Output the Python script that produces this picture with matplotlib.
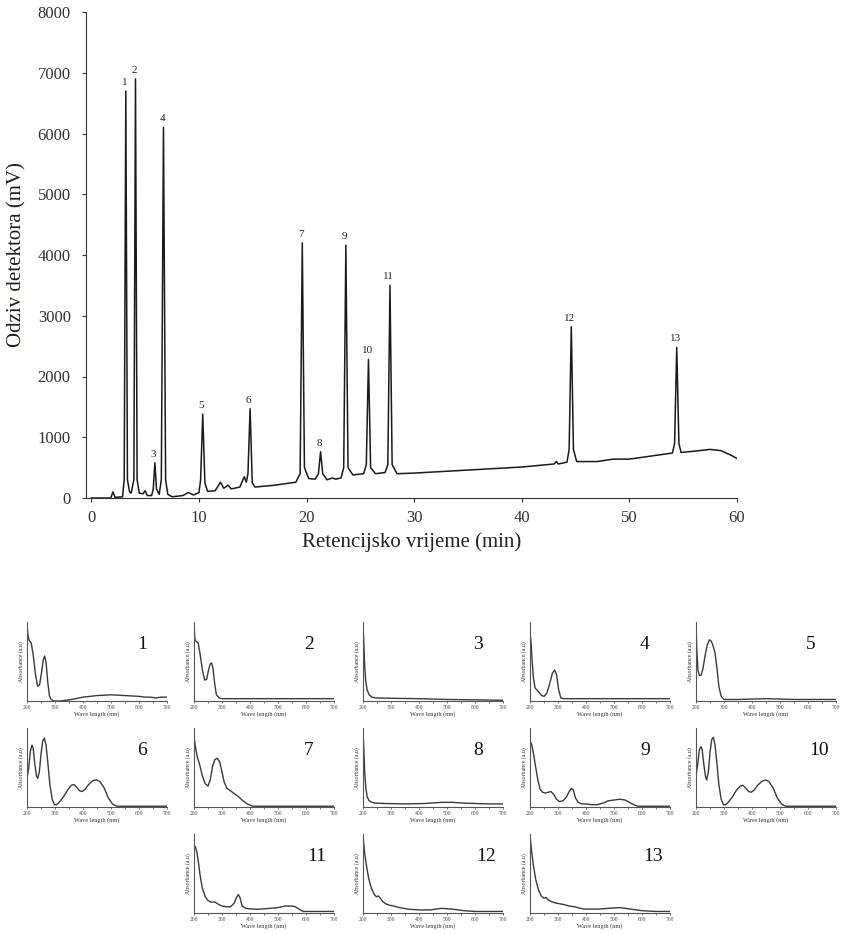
import matplotlib
matplotlib.use("Agg")
import matplotlib.pyplot as plt

plt.rcParams['font.family'] = ['Liberation Serif', 'DejaVu Serif']

# chromatogram trace, vertices (min, mV)
t_min = [0, 1.8, 2.0, 2.2, 2.9, 3.05, 3.2, 3.35, 3.55, 3.7, 3.95, 4.1, 4.25, 4.45,
         4.8, 5.0, 5.2, 5.6, 5.75, 5.9, 6.05, 6.3, 6.5, 6.7, 6.9, 7.1, 7.5, 8.5,
         9.0, 9.5, 10.0, 10.15, 10.35, 10.55, 10.8, 11.5, 12.0, 12.3, 12.7, 13.0,
         13.8, 14.2, 14.4, 14.55, 14.75, 14.95, 15.2, 17.0, 19.0, 19.4, 19.6, 19.8,
         20.2, 20.8, 21.1, 21.3, 21.5, 21.9, 22.4, 22.7, 23.2, 23.45, 23.65, 23.85,
         24.3, 25.3, 25.55, 25.75, 25.95, 26.4, 27.3, 27.55, 27.75, 27.95, 28.4,
         30, 33, 36, 40, 43, 43.2, 43.4, 44.2, 44.4, 44.6, 44.8, 45.1, 47, 48.5,
         50, 52, 54.0, 54.2, 54.4, 54.6, 54.8, 56, 57.5, 58.5, 59.5, 60]
signal = [0, 0, 100, 10, 20, 300, 6700, 300, 100, 80, 300, 6900, 300, 80,
          70, 120, 40, 40, 150, 580, 150, 60, 300, 6100, 300, 60, 20, 40,
          90, 50, 90, 300, 1380, 250, 110, 120, 260, 160, 210, 150,
          180, 350, 260, 400, 1470, 250, 180, 210, 260, 400, 4200, 500,
          320, 310, 400, 760, 400, 300, 330, 310, 330, 500, 4160, 500,
          380, 400, 550, 2280, 500, 400, 420, 550, 3500, 550, 400,
          410, 440, 470, 510, 560, 600, 560, 590, 800, 2820, 800, 600, 600, 640,
          640, 690, 740, 900, 2480, 900, 750, 770, 800, 780, 700, 650]

peak_no = ['1', '2', '3', '4', '5', '6', '7', '8', '9', '10', '11', '12', '13']
peak_t = [3.2, 4.1, 5.9, 6.7, 10.35, 14.75, 19.6, 21.3, 23.65, 25.75, 27.75, 44.6, 54.4]
peak_h = [6700, 6900, 580, 6100, 1380, 1470, 4200, 760, 4160, 2280, 3500, 2820, 2480]

# UV-Vis spectra of the peaks (nm, a.u.)
wl1 = [200, 203, 207, 215, 222, 230, 238, 245, 252, 258, 263, 268, 274, 280, 286, 295, 320, 360, 400, 450, 500, 550, 600, 620, 640, 660, 680, 700]
ab1 = [1.00, 0.86, 0.79, 0.75, 0.60, 0.35, 0.19, 0.21, 0.37, 0.53, 0.58, 0.50, 0.25, 0.07, 0.02, 0.0, 0.0, 0.02, 0.05, 0.07, 0.08, 0.07, 0.06, 0.05, 0.05, 0.04, 0.05, 0.05]
wl2 = [200, 203, 207, 215, 222, 230, 238, 245, 252, 258, 263, 268, 274, 280, 290, 300, 400, 500, 600, 700]
ab2 = [1.00, 0.80, 0.77, 0.75, 0.60, 0.40, 0.27, 0.28, 0.40, 0.48, 0.49, 0.42, 0.22, 0.08, 0.04, 0.03, 0.03, 0.03, 0.03, 0.03]
wl3 = [200, 203, 206, 210, 215, 222, 232, 245, 300, 400, 500, 600, 700]
ab3 = [1.00, 0.75, 0.45, 0.25, 0.14, 0.08, 0.05, 0.04, 0.035, 0.03, 0.02, 0.015, 0.01]
wl4 = [200, 203, 207, 212, 218, 230, 242, 250, 260, 270, 280, 288, 295, 302, 310, 320, 400, 500, 600, 700]
ab4 = [0.87, 0.80, 0.55, 0.30, 0.17, 0.12, 0.07, 0.06, 0.10, 0.22, 0.36, 0.40, 0.34, 0.15, 0.04, 0.03, 0.03, 0.03, 0.03, 0.03]
wl5 = [200, 203, 207, 212, 218, 225, 232, 240, 248, 255, 262, 268, 275, 282, 290, 300, 350, 450, 550, 700]
ab5 = [1.00, 0.65, 0.40, 0.33, 0.33, 0.42, 0.58, 0.72, 0.79, 0.77, 0.70, 0.62, 0.42, 0.18, 0.06, 0.02, 0.02, 0.03, 0.02, 0.02]
wl6 = [200, 206, 212, 218, 222, 228, 234, 238, 244, 250, 256, 262, 268, 275, 282, 290, 298, 306, 315, 330, 345, 358, 368, 378, 388, 397, 408, 420, 435, 448, 460, 475, 490, 505, 520, 560, 700]
ab6 = [0.37, 0.50, 0.72, 0.80, 0.76, 0.55, 0.40, 0.37, 0.45, 0.68, 0.85, 0.89, 0.80, 0.55, 0.28, 0.10, 0.03, 0.03, 0.06, 0.13, 0.22, 0.28, 0.29, 0.25, 0.21, 0.20, 0.23, 0.29, 0.34, 0.35, 0.33, 0.25, 0.12, 0.04, 0.01, 0.01, 0.01]
wl7 = [200, 205, 212, 220, 230, 240, 250, 258, 266, 274, 283, 292, 300, 308, 318, 330, 345, 360, 375, 390, 410, 450, 550, 700]
ab7 = [0.90, 0.78, 0.64, 0.55, 0.40, 0.30, 0.27, 0.35, 0.52, 0.61, 0.63, 0.58, 0.45, 0.32, 0.24, 0.21, 0.17, 0.13, 0.08, 0.04, 0.01, 0.01, 0.01, 0.01]
wl8 = [200, 203, 206, 210, 215, 222, 232, 245, 280, 350, 420, 480, 520, 560, 600, 650, 700]
ab8 = [1.00, 0.75, 0.45, 0.25, 0.13, 0.08, 0.06, 0.05, 0.045, 0.04, 0.045, 0.06, 0.06, 0.05, 0.045, 0.04, 0.04]
wl9 = [200, 205, 212, 220, 228, 236, 245, 255, 265, 275, 285, 295, 305, 318, 330, 340, 348, 355, 362, 372, 385, 400, 420, 440, 460, 480, 500, 520, 540, 555, 570, 585, 600, 700]
ab9 = [0.84, 0.82, 0.70, 0.52, 0.35, 0.23, 0.19, 0.18, 0.19, 0.20, 0.16, 0.10, 0.07, 0.08, 0.13, 0.20, 0.24, 0.22, 0.12, 0.06, 0.04, 0.04, 0.03, 0.03, 0.05, 0.08, 0.09, 0.10, 0.09, 0.06, 0.03, 0.01, 0.01, 0.01]
wl10 = [200, 206, 212, 218, 222, 228, 234, 238, 244, 250, 256, 262, 268, 275, 282, 290, 298, 306, 315, 330, 345, 358, 368, 378, 388, 397, 408, 420, 435, 448, 460, 475, 490, 505, 520, 560, 700]
ab10 = [0.40, 0.55, 0.74, 0.78, 0.74, 0.55, 0.39, 0.35, 0.45, 0.70, 0.87, 0.90, 0.80, 0.55, 0.28, 0.10, 0.03, 0.03, 0.06, 0.13, 0.22, 0.27, 0.28, 0.24, 0.20, 0.19, 0.22, 0.28, 0.33, 0.35, 0.33, 0.25, 0.12, 0.04, 0.01, 0.01, 0.01]
wl11 = [200, 205, 210, 216, 222, 230, 240, 250, 262, 275, 288, 300, 315, 330, 342, 352, 358, 364, 372, 385, 410, 440, 470, 500, 525, 550, 562, 575, 590, 610, 700]
ab11 = [0.88, 0.85, 0.79, 0.65, 0.48, 0.32, 0.21, 0.16, 0.14, 0.14, 0.11, 0.09, 0.08, 0.08, 0.12, 0.20, 0.24, 0.20, 0.09, 0.06, 0.05, 0.05, 0.06, 0.07, 0.09, 0.09, 0.08, 0.05, 0.02, 0.02, 0.02]
wl12 = [200, 205, 212, 220, 230, 240, 248, 255, 262, 270, 280, 295, 310, 330, 360, 400, 440, 480, 520, 560, 600, 650, 700]
ab12 = [1.00, 0.80, 0.62, 0.45, 0.32, 0.24, 0.21, 0.22, 0.19, 0.15, 0.12, 0.10, 0.09, 0.07, 0.05, 0.04, 0.04, 0.06, 0.05, 0.03, 0.02, 0.02, 0.02]
wl13 = [200, 205, 212, 220, 230, 240, 250, 258, 265, 275, 290, 305, 320, 340, 360, 380, 400, 440, 480, 520, 560, 600, 650, 700]
ab13 = [1.00, 0.82, 0.62, 0.44, 0.30, 0.22, 0.19, 0.20, 0.17, 0.15, 0.13, 0.12, 0.11, 0.09, 0.08, 0.06, 0.05, 0.05, 0.06, 0.07, 0.05, 0.03, 0.02, 0.02]

spectra = [(wl1, ab1), (wl2, ab2), (wl3, ab3), (wl4, ab4), (wl5, ab5),
           (wl6, ab6), (wl7, ab7), (wl8, ab8), (wl9, ab9), (wl10, ab10),
           (wl11, ab11), (wl12, ab12), (wl13, ab13)]

W, H = 841, 934
fig = plt.figure(figsize=(W / 100, H / 100), dpi=100)

def box(x0, y0, x1, y1):  # pixel box -> figure fraction rect
    return [x0 / W, 1 - y1 / H, (x1 - x0) / W, (y1 - y0) / H]

# main chromatogram
ax = fig.add_axes(box(86, 12, 737, 498))
ax.plot(t_min, signal, color='#1a1a1a', lw=1.1)
for n, t, h in zip(peak_no, peak_t, peak_h):
    ax.annotate(n, (t, h), xytext=(-1, 3), textcoords='offset points',
                ha='center', va='bottom', fontsize=8, color='#222222')
ax.set_xlim(-0.5, 60)
ax.set_ylim(0, 8000)
ax.set_xticks(range(0, 61, 10))
ax.set_yticks(range(0, 8001, 1000))
ax.spines['top'].set_visible(False)
ax.spines['right'].set_visible(False)
ax.spines['left'].set_color('#333333')
ax.spines['bottom'].set_color('#333333')
ax.tick_params(direction='out', length=3, width=0.8, labelsize=12, colors='#333333', pad=8)
ax.tick_params(axis='x', pad=6)
ax.set_xlabel('Retencijsko vrijeme (min)', fontsize=15, color='#222222', labelpad=4)
ax.set_ylabel('Odziv detektora (mV)', fontsize=15, color='#1c1c30', labelpad=8)

# small spectra panels
col_x = [27, 194, 363, 530, 696]
row_y = [622, 728, 834]
cells = [(0, c) for c in range(5)] + [(1, c) for c in range(5)] + [(2, c) for c in (1, 2, 3)]
for i, ((r, c), (wl, ab)) in enumerate(zip(cells, spectra)):
    x0, y0 = col_x[c], row_y[r]
    a = fig.add_axes(box(x0, y0, x0 + 140, y0 + 79))
    a.plot(wl, ab, color='#3a3a3a', lw=1.0)
    a.set_xlim(200, 700)
    a.set_ylim(0, 1.02)
    a.set_xticks(range(200, 701, 100))
    a.set_xticks(range(250, 700, 100), minor=True)
    a.set_yticks([])
    a.spines['top'].set_visible(False)
    a.spines['right'].set_visible(False)
    a.spines['left'].set_color('#555555')
    a.spines['bottom'].set_color('#555555')
    a.tick_params(axis='x', which='both', length=1.5, width=0.5, labelsize=4, pad=1.5, colors='#444444')
    a.set_xlabel('Wave length (nm)', fontsize=4.5, labelpad=1, color='#333333')
    a.set_ylabel('Absorbance (a.u)', fontsize=4.2, labelpad=2, color='#333333')
    lab = str(i + 1)
    a.text(0.82 if len(lab) == 1 else 0.88, 0.72, lab, transform=a.transAxes,
           ha='center', va='center', fontsize=14, color='#111111')

fig.savefig('out.png', dpi=100)
